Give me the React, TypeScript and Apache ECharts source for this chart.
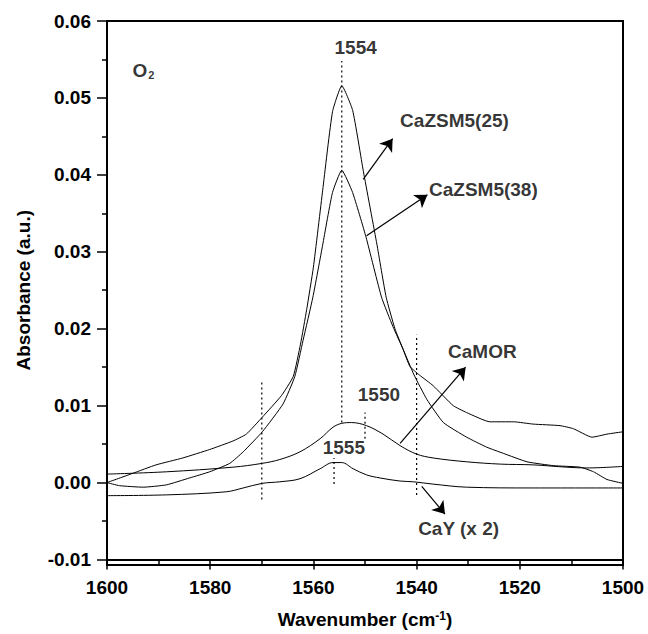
import React, { useEffect, useRef } from "react";
import * as echarts from "echarts";

// ---- Data ----
const wnZsm25 = [1600, 1595, 1590.5, 1585.3, 1580.1, 1575.6, 1573, 1569.9, 1566.2, 1563.9, 1562.5, 1561.3, 1560.0, 1558.2, 1556.3, 1554.5, 1552.4, 1550.3, 1547.7, 1545.9, 1544.2, 1542.6, 1541.3, 1539.5, 1536.8, 1532.9, 1530.3, 1525.8, 1521.2, 1517.4, 1512.2, 1509.6, 1506.0, 1503.1, 1500];
const abZsm25 = [0.0000, 0.0012, 0.0023, 0.0032, 0.0043, 0.0054, 0.0063, 0.0085, 0.0113, 0.0138, 0.0180, 0.0225, 0.0280, 0.0380, 0.0482, 0.0516, 0.0484, 0.0404, 0.0310, 0.0241, 0.0200, 0.0173, 0.0151, 0.0140, 0.0126, 0.0100, 0.0091, 0.0079, 0.0079, 0.0076, 0.0074, 0.0070, 0.0059, 0.0063, 0.0066];

const wnZsm38 = [1600, 1597.6, 1593, 1588.5, 1584, 1580.1, 1576.2, 1573.6, 1569.9, 1565.9, 1563.6, 1562.0, 1560.1, 1558.2, 1556.3, 1554.5, 1552.4, 1549.8, 1546.8, 1544.6, 1542.6, 1540.5, 1538, 1534.8, 1530.3, 1526.4, 1523.2, 1518.6, 1513.5, 1508.3, 1505.7, 1503.1, 1500];
const abZsm38 = [0.0000, -0.0004, -0.0006, -0.0003, 0.0006, 0.0014, 0.0025, 0.0040, 0.0066, 0.0102, 0.0138, 0.0185, 0.0241, 0.0309, 0.0377, 0.0406, 0.0377, 0.0319, 0.0241, 0.0203, 0.0173, 0.0140, 0.0108, 0.0078, 0.0059, 0.0046, 0.0038, 0.0027, 0.0022, 0.0020, 0.0014, 0.0004, -0.0001];

const wnMor = [1600, 1588.5, 1575.6, 1569.9, 1566.5, 1562.6, 1558.7, 1556.2, 1554.5, 1552.6, 1549.7, 1546.5, 1543.2, 1540, 1536.8, 1530.3, 1523.8, 1517.4, 1510.9, 1507, 1500];
const abMor = [0.0011, 0.0014, 0.0020, 0.0025, 0.0030, 0.0040, 0.0057, 0.0072, 0.0077, 0.0078, 0.0074, 0.0063, 0.0048, 0.0037, 0.0032, 0.0027, 0.0024, 0.0023, 0.0020, 0.0019, 0.0021];

const wnCaY = [1600, 1588.5, 1576.9, 1573.6, 1569.9, 1566.5, 1562.6, 1558.7, 1556.2, 1554.5, 1552.3, 1549.7, 1547.1, 1543.2, 1540.6, 1536.8, 1530.3, 1517.4, 1500];
const abCaY = [-0.0017, -0.0016, -0.0012, -0.0007, -0.0001, 0.0001, 0.0005, 0.0018, 0.0026, 0.0026, 0.0018, 0.0010, 0.0006, 0.0002, 0.0001, -0.0002, -0.0006, -0.0007, -0.0007];

// dotted marker lines
const markerWn = [1554.5, 1570, 1540, 1550, 1556];
const markerTop = [0.0548, 0.0134, 0.0192, 0.0091, 0.0032];
const markerBottom = [0.0078, -0.0022, -0.0016, 0.0057, -0.0002];

// arrows [fromWn, fromAb] -> [toWn, toAb]
const arrowFromWn = [1550.35, 1549.7, 1543.2, 1539.0];
const arrowFromAb = [0.0394, 0.0321, 0.0051, -0.0005];
const arrowToWn = [1544.65, 1537.9, 1530.5, 1534.5];
const arrowToAb = [0.0447, 0.0374, 0.0150, -0.0041];

// text labels (left edge, vertical middle)
const labelTexts = ["1554", "CaZSM5(25)", "CaZSM5(38)", "CaMOR", "1550", "1555", "CaY (x 2)", "O{sub|2}"];
const labelWn = [1555.9, 1543.2, 1537.6, 1533.9, 1551.4, 1558.2, 1539.7, 1595.05];
const labelAb = [0.0566, 0.0471, 0.0381, 0.0171, 0.0114, 0.0046, -0.0060, 0.0536];

const FONT = "'Liberation Sans', Arial, Helvetica, sans-serif";

// plot frame (layout)
const GRID = { left: 107, right: 25, top: 21, bottom: 69 };
const W = 648;
const H = 634;

function zip(xs: number[], ys: number[]) {
  return xs.map((x, i) => [x, ys[i]]);
}

export default function App() {
  const ref = useRef<HTMLDivElement>(null);
  useEffect(() => {
    if (!ref.current) return;
    const chart = echarts.init(ref.current, undefined, { renderer: "svg" });

    const curveStyle = { color: "#000", width: 1 };
    const curves = [
      { name: "CaZSM5(25)", d: zip(wnZsm25, abZsm25), smooth: 0.15 },
      { name: "CaZSM5(38)", d: zip(wnZsm38, abZsm38), smooth: 0.15 },
      { name: "CaMOR", d: zip(wnMor, abMor), smooth: 0.35 },
      { name: "CaY", d: zip(wnCaY, abCaY), smooth: 0.35 },
    ].map((c) => ({
      type: "line",
      name: c.name,
      data: c.d,
      smooth: c.smooth,
      showSymbol: false,
      symbol: "none",
      lineStyle: curveStyle,
      silent: true,
      z: 3,
    }));

    const markers = markerWn.map((w, i) => ({
      type: "line",
      data: [
        [w, markerBottom[i]],
        [w, markerTop[i]],
      ],
      symbol: "none",
      lineStyle: { color: "#000", width: 1.2, type: [2, 3] },
      silent: true,
      z: 2,
    }));

    const arrows = {
      type: "lines",
      coordinateSystem: "cartesian2d",
      symbol: ["none", "arrow"],
      symbolSize: [0, 12],
      lineStyle: { color: "#000", width: 1.2, opacity: 1 },
      data: arrowFromWn.map((w, i) => ({
        coords: [
          [w, arrowFromAb[i]],
          [arrowToWn[i], arrowToAb[i]],
        ],
      })),
      silent: true,
      z: 4,
    };

    const labels = {
      type: "scatter",
      symbolSize: 0,
      silent: true,
      data: labelWn.map((w, i) => ({
        value: [w, labelAb[i]],
        label: {
          show: true,
          position: "right",
          distance: 0,
          formatter: labelTexts[i],
          color: "#000",
          fontSize: 19,
          fontWeight: "bold",
          fontFamily: FONT,
          rich: {
            sub: {
              fontSize: 11,
              fontWeight: "bold",
              fontFamily: FONT,
              color: "#000",
              verticalAlign: "bottom",
              padding: [10, 0, 0, 1],
            },
          },
        },
      })),
      z: 5,
    };

    const axisLabelStyle = {
      color: "#000",
      fontSize: 19,
      fontWeight: "bold",
      fontFamily: FONT,
    };

    chart.setOption({
      animation: false,
      backgroundColor: "#fff",
      grid: { ...GRID, containLabel: false },
      graphic: [
        {
          type: "rect",
          silent: true,
          z: 10,
          shape: {
            x: GRID.left,
            y: GRID.top,
            width: W - GRID.left - GRID.right,
            height: H - GRID.top - GRID.bottom,
          },
          style: { fill: "none", stroke: "#000", lineWidth: 2 },
        },
      ],
      xAxis: {
        type: "value",
        min: 1500,
        max: 1600,
        interval: 20,
        inverse: true,
        position: "bottom",
        axisLine: { show: true, onZero: false, lineStyle: { color: "#000", width: 2 } },
        axisTick: { show: true, inside: false, length: 10, lineStyle: { color: "#000", width: 1.5 } },
        minorTick: { show: true, splitNumber: 2, length: 5, lineStyle: { color: "#000", width: 1.5 } },
        splitLine: { show: false },
        axisLabel: { ...axisLabelStyle, margin: 18, formatter: (v: number) => String(v) },
        name: "Wavenumber (cm{sup|-1})",
        nameLocation: "middle",
        nameGap: 50,
        nameTextStyle: {
          ...axisLabelStyle,
          rich: {
            sup: {
              fontSize: 12,
              fontWeight: "bold",
              fontFamily: FONT,
              color: "#000",
              verticalAlign: "top",
              padding: [0, 0, 8, 0],
            },
          },
        },
      },
      yAxis: {
        type: "value",
        min: -0.01,
        max: 0.06,
        interval: 0.01,
        position: "left",
        axisLine: { show: true, onZero: false, lineStyle: { color: "#000", width: 2 } },
        axisTick: { show: true, inside: false, length: 10, lineStyle: { color: "#000", width: 1.5 } },
        minorTick: { show: true, splitNumber: 2, length: 5, lineStyle: { color: "#000", width: 1.5 } },
        splitLine: { show: false },
        axisLabel: {
          ...axisLabelStyle,
          margin: 16,
          formatter: (v: number) => v.toFixed(2),
        },
        name: "Absorbance (a.u.)",
        nameLocation: "middle",
        nameGap: 74,
        nameTextStyle: axisLabelStyle,
      },
      series: [...curves, ...markers, arrows, labels],
    });

    return () => chart.dispose();
  }, []);

  return (
    <div
      ref={ref}
      style={{ position: "fixed", left: 0, top: 0, width: W, height: H, background: "#fff" }}
    />
  );
}
